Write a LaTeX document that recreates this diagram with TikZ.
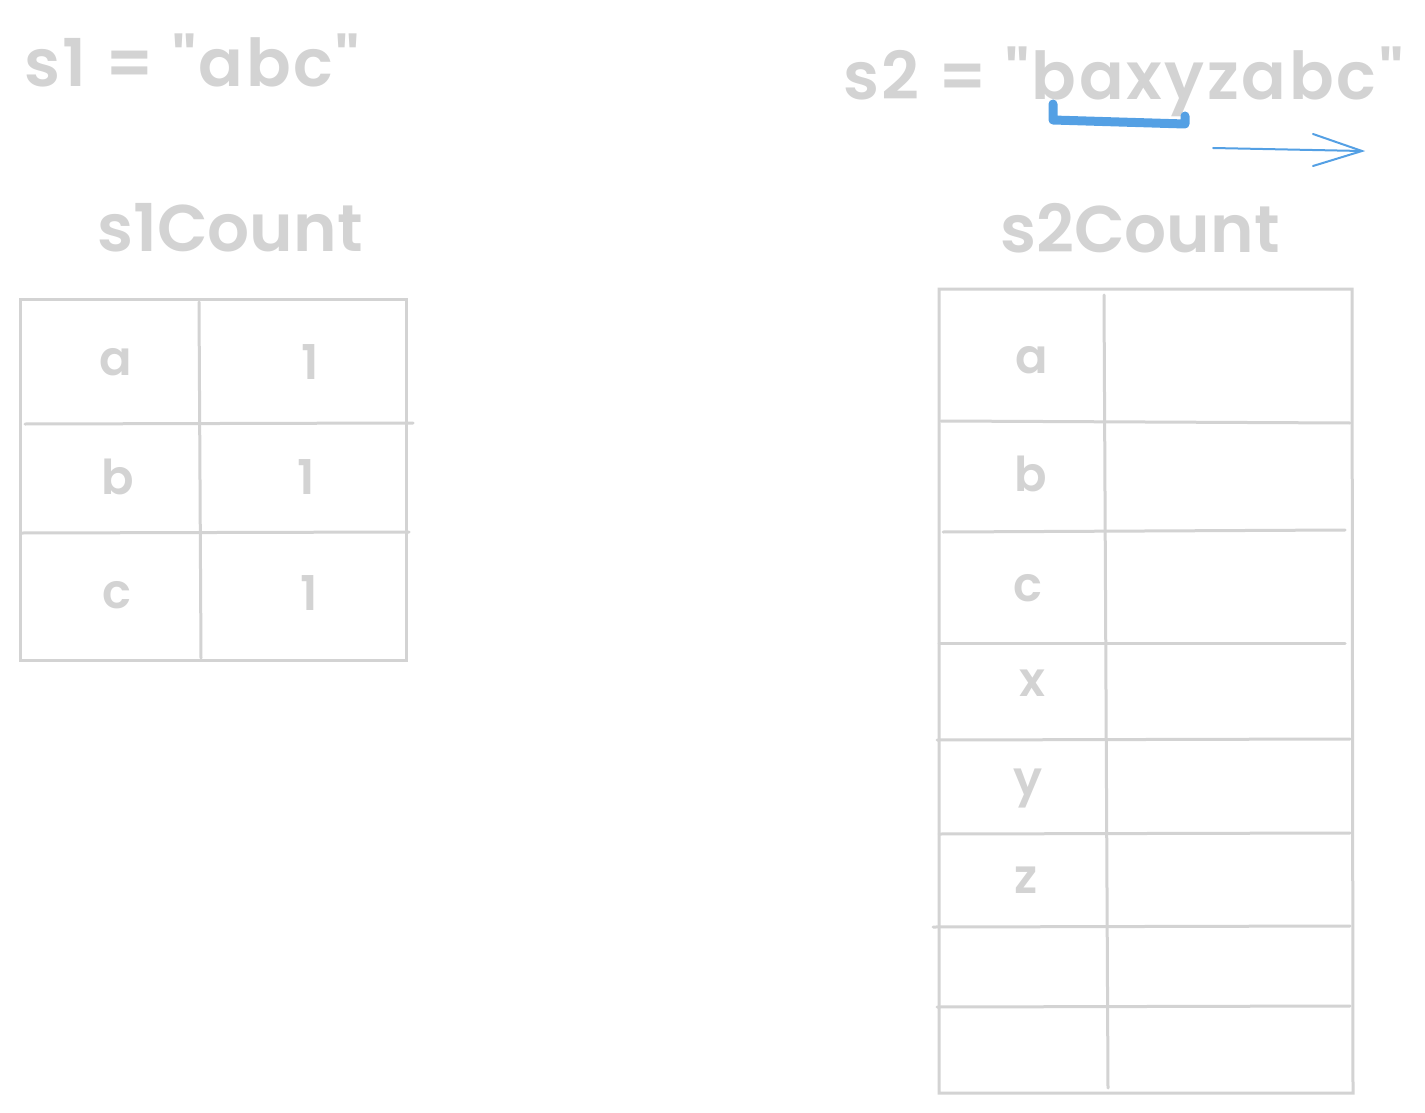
\documentclass[tikz,border=0pt]{standalone}
\usepackage{fontspec}
\newfontfamily\pop{Poppins}[UprightFont={* SemiBold}]
\newfontfamily\popwide{Poppins}[UprightFont={* SemiBold},LetterSpace=4]
\definecolor{lgray}{RGB}{211,211,211}
\definecolor{mblue}{RGB}{84,160,228}
\begin{document}
\begin{tikzpicture}[x=1pt,y=-1pt,
  grid/.style={draw=lgray,line width=3pt,line cap=round},
  lbl/.style={text=lgray,inner sep=0pt,font=\pop\fontsize{48}{52}\selectfont},
  big/.style={text=lgray,inner sep=0pt,font=\popwide\fontsize{66}{72}\selectfont},
  ttl/.style={text=lgray,inner sep=0pt,font=\pop\fontsize{66}{72}\selectfont}]
\useasboundingbox (0,0) rectangle (1425,1113);
% headers
\node[big,anchor=west] (s1) at (24,60) {s1 = "abc"};
\node[big,anchor=west] (s2) at (843,82) {s2 = "baxyzabc"};
\node[ttl] (t1) at (230,228) {s1Count};
\node[ttl] (t2) at (1140,228) {s2Count};
% blue window bracket
\draw[draw=mblue,line width=9pt,line cap=round,line join=round]
  (1053,104) -- (1053,120) -- (1185,124) -- (1185,116);
% blue arrow
\coordinate (a0) at (1213,148);
\coordinate (a1) at (1362,151);
\draw[draw=mblue,line width=2pt,line cap=round] (a0) -- (a1);
\draw[draw=mblue,line width=2pt,line cap=round] (1313,134) -- (a1) -- (1313,166);
% s1Count table
\draw[grid] (20,299) -- (406,299) -- (406,660) -- (20,660) -- cycle;
\draw[grid] (199,302) -- (201,658);
\draw[grid] (25,424) -- (413,423);
\draw[grid] (22,533) -- (409,532);
\node[lbl] (a1l) at (116,362) {a};
\node[lbl] (a1v) at (310,362) {1};
\node[lbl] (b1l) at (118,477) {b};
\node[lbl] (b1v) at (306,477) {1};
\node[lbl] (c1l) at (117,595) {c};
\node[lbl] (c1v) at (309,593) {1};
% s2Count table
\draw[grid] (939,289) -- (1352,289) -- (1353,1093) -- (939,1093) -- cycle;
\draw[grid] (1104,295) -- (1108,1088);
\draw[grid] (941,421) -- (1350,423);
\draw[grid] (943,532) -- (1345,530);
\draw[grid] (939,643) -- (1345,643);
\draw[grid] (937,740) -- (1350,739);
\draw[grid] (939,834) -- (1350,833);
\draw[grid] (933,927) -- (1350,926);
\draw[grid] (937,1007) -- (1350,1006);
\node[lbl] (a2) at (1032,360) {a};
\node[lbl] (b2) at (1031,474) {b};
\node[lbl] (c2) at (1028,588) {c};
\node[lbl] (x2) at (1032,683) {x};
\node[lbl] (y2) at (1028,788) {y};
\node[lbl] (z2) at (1026,880) {z};
\end{tikzpicture}
\end{document}
